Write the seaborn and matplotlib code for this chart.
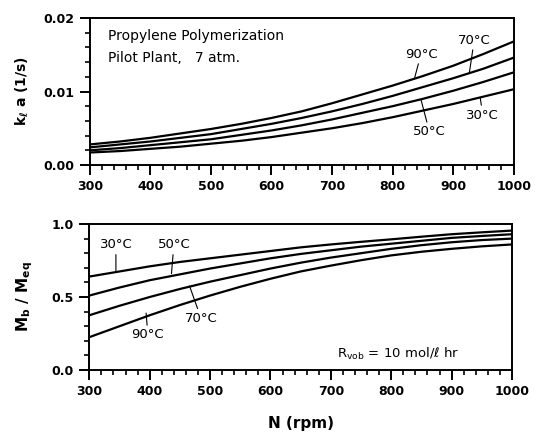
import matplotlib
matplotlib.use("Agg")
import matplotlib.pyplot as plt
import seaborn as sns
import pandas as pd
from matplotlib.ticker import MultipleLocator, FormatStrFormatter

# ---------------- data ----------------
temps = ["30°C", "50°C", "70°C", "90°C"]

n_rpm = [300, 350, 400, 450, 500, 550, 600, 650, 700, 750, 800, 850, 900, 950, 1000]

kla_30 = [0.0017, 0.0019, 0.0022, 0.0025, 0.0029, 0.0033, 0.0038, 0.0044,
          0.0050, 0.0057, 0.0065, 0.0074, 0.0083, 0.0093, 0.0103]
kla_50 = [0.0020, 0.0023, 0.0027, 0.0031, 0.0035, 0.0041, 0.0047, 0.0054,
          0.0062, 0.0071, 0.0080, 0.0090, 0.0101, 0.0113, 0.0126]
kla_70 = [0.0024, 0.0028, 0.0032, 0.0037, 0.0042, 0.0049, 0.0056, 0.0064,
          0.0073, 0.0083, 0.0094, 0.0106, 0.0118, 0.0131, 0.0146]
kla_90 = [0.0028, 0.0032, 0.0037, 0.0043, 0.0049, 0.0056, 0.0064, 0.0073,
          0.0084, 0.0096, 0.0108, 0.0121, 0.0135, 0.0151, 0.0168]

mb_30 = [0.640, 0.675, 0.710, 0.740, 0.765, 0.790, 0.815, 0.840,
         0.860, 0.878, 0.895, 0.913, 0.930, 0.943, 0.955]
mb_50 = [0.510, 0.565, 0.615, 0.655, 0.695, 0.730, 0.765, 0.795,
         0.820, 0.845, 0.865, 0.885, 0.905, 0.918, 0.930]
mb_70 = [0.375, 0.440, 0.500, 0.555, 0.605, 0.650, 0.695, 0.735,
         0.770, 0.800, 0.830, 0.855, 0.875, 0.890, 0.900]
mb_90 = [0.225, 0.300, 0.375, 0.445, 0.510, 0.570, 0.625, 0.675,
         0.715, 0.752, 0.785, 0.810, 0.830, 0.847, 0.860]

x_ticks = [300, 400, 500, 600, 700, 800, 900, 1000]

top_df = pd.DataFrame({
    "N": n_rpm * 4,
    "val": kla_30 + kla_50 + kla_70 + kla_90,
    "T": sum([[t] * len(n_rpm) for t in temps], []),
})
bot_df = pd.DataFrame({
    "N": n_rpm * 4,
    "val": mb_30 + mb_50 + mb_70 + mb_90,
    "T": sum([[t] * len(n_rpm) for t in temps], []),
})

# ---------------- style ----------------
sns.set_style("ticks")
plt.rcParams["font.family"] = ["DejaVu Sans"]
plt.rcParams["font.weight"] = "bold"
plt.rcParams["mathtext.default"] = "regular"
plt.rcParams["text.color"] = "black"
plt.rcParams["axes.labelcolor"] = "black"

fig = plt.figure(figsize=(5.35, 4.37), dpi=100)
ax1 = fig.add_axes([0.168, 0.6224, 0.792, 0.3364])
ax2 = fig.add_axes([0.167, 0.1533, 0.790, 0.3341])

pal = {t: "black" for t in temps}
sns.lineplot(data=top_df, x="N", y="val", hue="T", palette=pal, ax=ax1,
             legend=False, linewidth=1.6)
sns.lineplot(data=bot_df, x="N", y="val", hue="T", palette=pal, ax=ax2,
             legend=False, linewidth=1.6)

for ax in (ax1, ax2):
    ax.set_xlim(300, 1000)
    ax.set_xticks(x_ticks)
    ax.xaxis.set_minor_locator(MultipleLocator(20))
    for s in ax.spines.values():
        s.set_linewidth(1.4)
        s.set_color("black")
    ax.tick_params(which="major", direction="out", length=7, width=1.4,
                   labelsize=9, colors="black", pad=4)
    ax.tick_params(which="minor", direction="out", length=3.5, width=1.2,
                   colors="black")
    for lab in ax.get_xticklabels() + ax.get_yticklabels():
        lab.set_fontweight("bold")

ax1.set_ylim(0, 0.02)
ax1.set_yticks([0.0, 0.01, 0.02])
ax1.yaxis.set_minor_locator(MultipleLocator(0.002))
ax1.yaxis.set_major_formatter(FormatStrFormatter("%.2f"))
ax1.set_xlabel("")
ax1.set_ylabel(r"k$_{\ell}$ a (1/s)", fontsize=10, fontweight="bold",
               labelpad=9, color="black")

ax2.set_ylim(0, 1.0)
ax2.set_yticks([0.0, 0.5, 1.0])
ax2.yaxis.set_minor_locator(MultipleLocator(0.1))
ax2.yaxis.set_major_formatter(FormatStrFormatter("%.1f"))
ax2.set_xlabel("N (rpm)", fontsize=11, fontweight="bold", labelpad=13,
               color="black")
ax2.set_ylabel(r"M$_b$ / M$_{eq}$", fontsize=11, fontweight="bold",
               labelpad=12, color="black")

# ---------------- annotations ----------------
ax1.text(0.042, 0.88, "Propylene Polymerization", transform=ax1.transAxes,
         fontsize=10, fontweight="normal", va="center", ha="left")
ax1.text(0.042, 0.725, "Pilot Plant,   7 atm.", transform=ax1.transAxes,
         fontsize=10, fontweight="normal", va="center", ha="left")

lab_kw = dict(fontsize=9.5, fontweight="normal", ha="center", va="center",
              arrowprops=dict(arrowstyle="-", color="black", lw=0.8,
                              shrinkA=0, shrinkB=0))
ax1.annotate("90°C", xy=(836, 0.0117), xytext=(847, 0.0151), **lab_kw)
ax1.annotate("70°C", xy=(927, 0.0126), xytext=(935, 0.0170), **lab_kw)
ax1.annotate("50°C", xy=(847, 0.0089), xytext=(861, 0.0045), **lab_kw)
ax1.annotate("30°C", xy=(945, 0.0091), xytext=(949, 0.0068), **lab_kw)

ax2.annotate("30°C", xy=(344, 0.672), xytext=(344, 0.857), **lab_kw)
ax2.annotate("50°C", xy=(436, 0.66), xytext=(440, 0.857), **lab_kw)
ax2.annotate("70°C", xy=(466, 0.575), xytext=(485, 0.354), **lab_kw)
ax2.annotate("90°C", xy=(394, 0.39), xytext=(397, 0.24), **lab_kw)

ax2.text(0.585, 0.11, r"R$_{vob}$ = 10 mol/ℓ hr", transform=ax2.transAxes,
         fontsize=9.5, fontweight="normal", ha="left", va="center")

fig.savefig("out.png", dpi=100)
